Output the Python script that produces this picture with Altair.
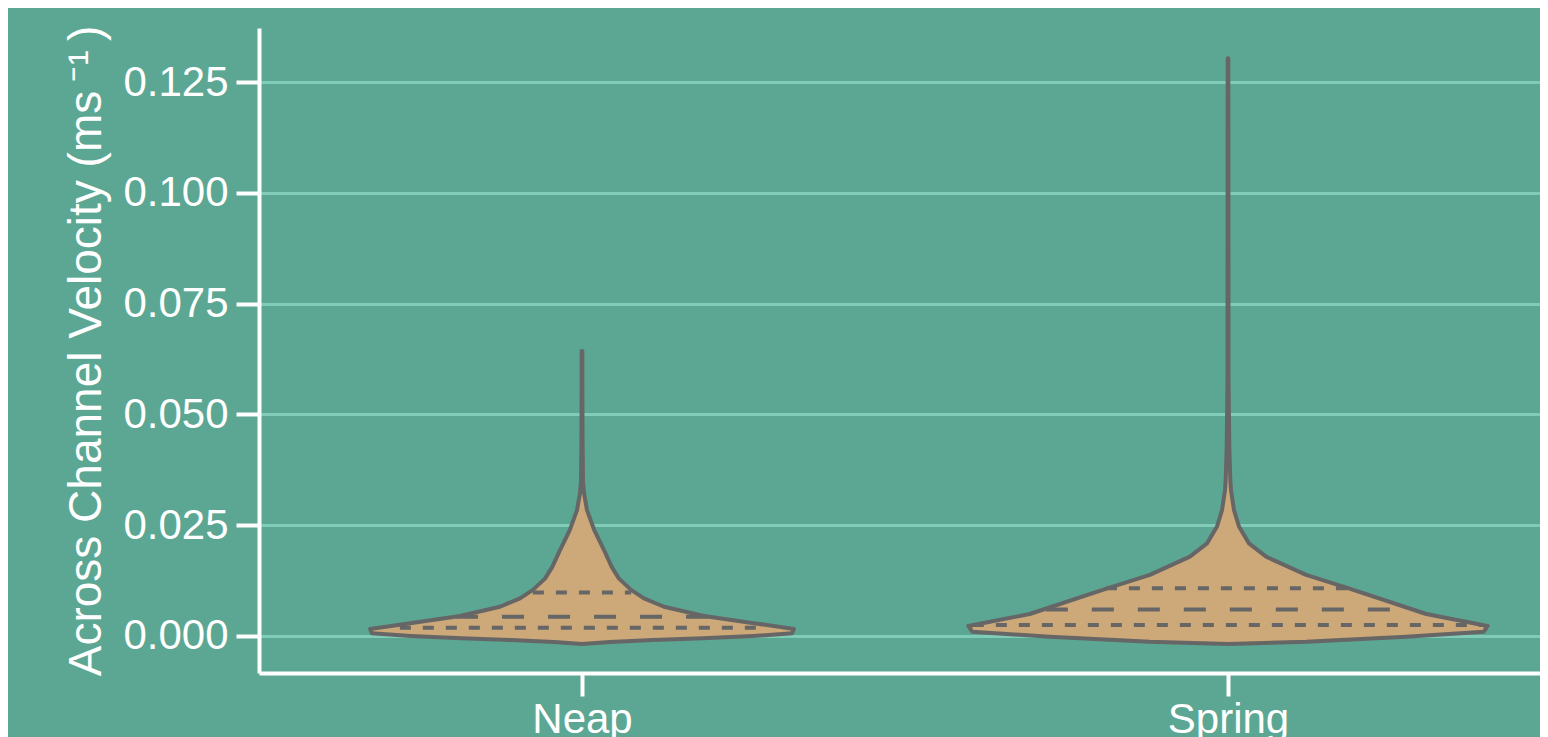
import altair as alt
import pandas as pd

# ---- data ----
categories = ["Neap", "Spring"]
centers = [0.5, 1.5]

# violin outline: velocity value and half-width (density, in x units)
neap_v = [-0.0018, -0.00135, -0.0009, -0.00053, 0.0, 0.0006, 0.0016, 0.0029, 0.0045,
          0.0066, 0.0085, 0.0104, 0.0130, 0.0156, 0.0194, 0.0239, 0.0284, 0.0323,
          0.0350, 0.0450, 0.0643]
neap_w = [0.0, 0.043, 0.110, 0.187, 0.265, 0.325, 0.328, 0.266, 0.189,
          0.127, 0.096, 0.076, 0.057, 0.046, 0.034, 0.019, 0.0077, 0.0031,
          0.0015, 0.0008, 0.0005]

spring_v = [-0.0018, -0.0013, -0.00015, 0.00097, 0.00226, 0.00496, 0.01076, 0.0138,
            0.0179, 0.0209, 0.0247, 0.0284, 0.0329, 0.0352, 0.0427, 0.0578, 0.1304]
spring_w = [0.0, 0.121, 0.276, 0.396, 0.402, 0.307, 0.187, 0.121,
            0.059, 0.0325, 0.017, 0.0093, 0.0046, 0.0036, 0.002, 0.0008, 0.0005]

# quartile lines
q_cat = ["Neap", "Neap", "Neap", "Spring", "Spring", "Spring"]
q_kind = ["q1", "median", "q3", "q1", "median", "q3"]
q_v = [0.00188, 0.00436, 0.0098, 0.00248, 0.0060, 0.01076]
q_w = [0.282, 0.195, 0.076, 0.395, 0.282, 0.189]

y_ticks = [0.0, 0.025, 0.05, 0.075, 0.1, 0.125]
y_title = "Across Channel Velocity (ms\u2009\u207b\u00b9\u2009)"

# ---- styles ----
BG = "#5CA793"
GRID = "#80CCB8"
FILL = "#CDA878"
EDGE = "#666666"
FONT = "Liberation Sans"

# ---- tables ----
cmap = dict(zip(categories, centers))

def violin_table(cat, vs, ws):
    c = cmap[cat]
    return pd.DataFrame({"cat": cat, "v": vs,
                         "lo": [c - w for w in ws], "hi": [c + w for w in ws]})

q_df = pd.DataFrame({
    "cat": q_cat, "kind": q_kind, "v": q_v,
    "lo": [cmap[c] - w for c, w in zip(q_cat, q_w)],
    "hi": [cmap[c] + w for c, w in zip(q_cat, q_w)],
})

label_expr = " : ".join(
    [f"datum.value < {c + 0.5} ? '{n}'" for c, n in zip(centers[:-1], categories[:-1])]
    + [f"'{categories[-1]}'"]
)

yscale = alt.Scale(domain=[-0.00835, 0.1372], nice=False, zero=False)
xscale = alt.Scale(domain=[0, 1.98297], nice=False, zero=False)

yaxis = alt.Axis(values=y_ticks, format=".3f", title=y_title,
                 grid=True, gridColor=GRID, gridWidth=3,
                 labelPadding=8, titlePadding=12)
xaxis = alt.Axis(values=centers, labelExpr=label_expr, grid=False,
                 title="", labelPadding=3)


def violin(df):
    return alt.Chart(df).mark_area(
        orient="horizontal", fill=FILL, stroke=EDGE, strokeWidth=4,
        strokeJoin="round", interpolate="linear"
    ).encode(
        y=alt.Y("v:Q", scale=yscale, axis=yaxis),
        x=alt.X("lo:Q", scale=xscale, axis=xaxis),
        x2="hi:Q",
    )

v_neap = violin(violin_table("Neap", neap_v, neap_w))
v_spring = violin(violin_table("Spring", spring_v, spring_w))

quart = alt.Chart(q_df).transform_filter(
    alt.datum.kind != "median"
).mark_rule(stroke=EDGE, strokeWidth=4, strokeDash=[11, 12]).encode(
    y="v:Q", x="lo:Q", x2="hi:Q"
)

med = alt.Chart(q_df).transform_filter(
    alt.datum.kind == "median"
).mark_rule(stroke=EDGE, strokeWidth=4, strokeDash=[22, 24]).encode(
    y="v:Q", x="lo:Q", x2="hi:Q"
)

chart = alt.layer(v_neap, v_spring, quart, med).properties(
    width=1281, height=645,
    autosize=alt.AutoSizeParams(type="none"),
    padding={"left": 251, "top": 20, "right": 0, "bottom": 64},
    background=BG,
).configure_view(strokeWidth=0).configure_axis(
    domainColor="white", domainWidth=4,
    tickColor="white", tickWidth=4, tickSize=23,
    labelColor="white", labelFontSize=42, labelFont=FONT,
    titleColor="white", titleFontSize=46, titleFont=FONT, titleFontWeight="normal",
)

chart.save("out.html", embed_options={"renderer": "svg", "actions": False})
